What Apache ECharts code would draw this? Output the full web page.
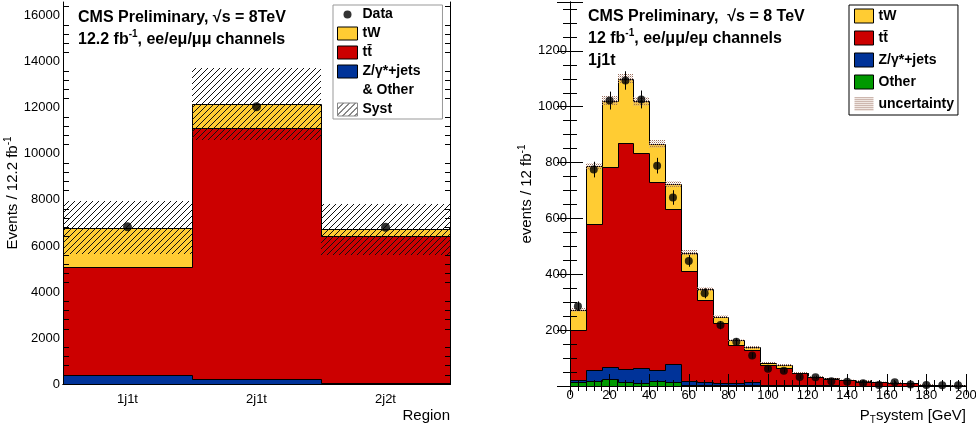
<!DOCTYPE html>
<html>
<head>
<meta charset="utf-8">
<script src="https://cdn.jsdelivr.net/npm/echarts@6/dist/echarts.min.js"></script>
<style>
html, body { margin: 0; padding: 0; background: #fff; }
#chart { width: 976px; height: 430px; }
</style>
</head>
<body>
<div id="chart"></div>
<script>
// left panel: yields per region
var regions = ["1j1t", "2j1t", "2j2t"];
var regZOther = [390, 200, 30];
var regTtbar = [4700, 10910, 6400];
var regTW = [1710, 1060, 290];
var regSyst = [1150, 1550, 1110];
var regData = [6830, 12050, 6810];

// right panel: PT system, 8 GeV bins
var ptEdges = [0, 8, 16, 24, 32, 40, 48, 56, 64, 72, 80, 88, 96, 104, 112, 120, 128, 136, 144, 152, 160, 168, 176, 184, 192, 200];
var ptOther = [15, 18, 26, 13, 10, 18, 13, 5, 3, 2, 2, 2, 1, 1, 1, 1, 1, 0, 0, 0, 0, 0, 0, 0, 0];
var ptZjets = [6, 41, 43, 49, 53, 41, 67, 13, 12, 10, 8, 11, 4, 3, 2, 2, 1, 1, 1, 1, 0, 0, 0, 0, 0];
var ptTtbar = [179, 522, 715, 808, 771, 671, 553, 394, 293, 212, 136, 115, 71, 62, 42, 28, 23, 19, 15, 12, 10, 9, 4, 3, 2];
var ptTW = [72, 205, 238, 230, 185, 137, 89, 66, 38, 24, 18, 10, 8, 8, 3, 3, 3, 3, 2, 2, 2, 2, 1, 1, 0];
var ptUnc = [7, 13, 16, 16, 15, 13, 11, 9, 7, 6, 5, 4, 3, 3, 3, 2, 2, 2, 2, 2, 1, 1, 1, 1, 1];
var ptData = [286, 775, 1022, 1094, 1026, 789, 675, 448, 332, 218, 158, 109, 62, 55, 32, 31, 17, 15, 10, 4, 13, 5, 4, 3, 3];
var ptDataErr = [17, 28, 32, 33, 32, 28, 26, 21, 18, 15, 13, 10, 8, 7, 6, 6, 4, 4, 3, 2, 4, 2, 2, 2, 2];

var FONT = '"Liberation Sans", Arial, Helvetica, sans-serif';
var C_TW = "#ffcc33", C_TT = "#cc0000", C_Z = "#003399", C_OTHER = "#009900";

function makePattern(size, draw) {
  var c = document.createElement("canvas");
  c.width = size;
  c.height = size;
  draw(c.getContext("2d"), size);
  return { image: c, repeat: "repeat" };
}
var hatch = makePattern(6, function (ctx, s) {
  ctx.strokeStyle = "#111";
  ctx.lineWidth = 1;
  ctx.beginPath();
  ctx.moveTo(0, s); ctx.lineTo(s, 0);
  ctx.moveTo(-1, 1); ctx.lineTo(1, -1);
  ctx.moveTo(s - 1, s + 1); ctx.lineTo(s + 1, s - 1);
  ctx.stroke();
});
var dots = makePattern(2, function (ctx) {
  ctx.fillStyle = "#9a6e5e";
  ctx.fillRect(0, 0, 1, 1);
  ctx.fillStyle = "rgba(200,170,155,0.6)";
  ctx.fillRect(1, 1, 1, 1);
});

// cumulative stack, bottom first
function cumulate(parts) {
  var acc = parts[0].map(function () { return 0; });
  return parts.map(function (p) {
    var lo = acc.slice();
    acc = acc.map(function (v, i) { return v + p[i]; });
    return { lo: lo, hi: acc.slice() };
  });
}
var regStack = cumulate([regZOther, regTtbar, regTW]);
var ptStack = cumulate([ptOther, ptZjets, ptTtbar, ptTW]);
var regTotal = regStack[2].hi;
var ptTotal = ptStack[3].hi;

function px(v) { return Math.round(v) + 0.5; }

function snapRect(x0, y0, x1, y1, fill) {
  var l = Math.round(Math.min(x0, x1)), r = Math.round(Math.max(x0, x1));
  var t = Math.round(Math.min(y0, y1)), b = Math.round(Math.max(y0, y1));
  return { type: "rect", shape: { x: l, y: t, width: r - l, height: b - t }, style: { fill: fill } };
}

// ---- render helpers
function regionBlock(fill) {
  return function (params, api) {
    var i = api.value(0);
    var w = api.size([1, 0])[0];
    var a = api.coord([i, api.value(1)]);
    var b = api.coord([i, api.value(2)]);
    return snapRect(a[0] - w / 2, a[1], a[0] + w / 2, b[1], fill);
  };
}
function regionOutline(params, api) {
  var i = api.value(0);
  var w = api.size([1, 0])[0];
  var t = api.coord([i, api.value(1)]);
  var p = api.coord([i, api.value(2)]);
  var xl = px(t[0] - w / 2), xr = px(t[0] + w / 2);
  var pts = [[xl, px(p[1])], [xl, px(t[1])], [xr, px(t[1])]];
  if (api.value(3)) pts.push([xr, px(api.coord([i, 0])[1])]);
  return { type: "polyline", shape: { points: pts }, style: { stroke: "#000", lineWidth: 1, fill: null } };
}
function binBlock(fill) {
  return function (params, api) {
    var a = api.coord([api.value(0), api.value(2)]);
    var b = api.coord([api.value(1), api.value(3)]);
    return snapRect(a[0], a[1], b[0], b[1], fill);
  };
}
function binOutline(params, api) {
  var lo = api.value(0), hi = api.value(1);
  var t = api.coord([lo, api.value(2)]);
  var p = api.coord([lo, api.value(3)]);
  var r = api.coord([hi, api.value(2)]);
  var pts = [[px(t[0]), px(p[1])], [px(t[0]), px(t[1])], [px(r[0]), px(r[1])]];
  if (api.value(4)) pts.push([px(r[0]), px(api.coord([hi, 0])[1])]);
  return { type: "polyline", shape: { points: pts }, style: { stroke: "#000", lineWidth: 1, fill: null } };
}
function errBar(params, api) {
  var a = api.coord([api.value(0), api.value(1) - api.value(2)]);
  var b = api.coord([api.value(0), api.value(1) + api.value(2)]);
  return { type: "line", shape: { x1: px(a[0]), y1: a[1], x2: px(b[0]), y2: b[1] }, style: { stroke: "#000", lineWidth: 1 } };
}

// ---- series data
function regBlockData(k) {
  return regions.map(function (r, i) { return [i, regStack[k].lo[i], regStack[k].hi[i]]; });
}
function regOutlineData(k) {
  var hi = regStack[k].hi;
  return regions.map(function (r, i) { return [i, hi[i], i > 0 ? hi[i - 1] : 0, i === regions.length - 1 ? 1 : 0]; });
}
function ptBlockData(k) {
  return ptStack[k].hi.map(function (v, i) { return [ptEdges[i], ptEdges[i + 1], ptStack[k].lo[i], v]; });
}
function ptOutlineData(k) {
  var hi = ptStack[k].hi;
  return hi.map(function (v, i) { return [ptEdges[i], ptEdges[i + 1], v, i > 0 ? hi[i - 1] : 0, i === hi.length - 1 ? 1 : 0]; });
}
var ptCenters = ptData.map(function (v, i) { return (ptEdges[i] + ptEdges[i + 1]) / 2; });

var series = [];
function add(s) { series.push(s); }

// left panel
[[2, "tW", C_TW], [1, "tt\u0304", C_TT], [0, "Z/\u03b3*+jets", C_Z]].forEach(function (d) {
  add({ type: "custom", name: d[1], xAxisIndex: 0, yAxisIndex: 0, renderItem: regionBlock(d[2]),
    itemStyle: { color: d[2], borderColor: "#000", borderWidth: 1 }, data: regBlockData(d[0]) });
});
add({ type: "custom", name: "& Other", xAxisIndex: 0, yAxisIndex: 0, renderItem: function () { return null; },
  itemStyle: { color: "rgba(0,0,0,0)", borderColor: "rgba(0,0,0,0)" }, data: [] });
[2, 1, 0].forEach(function (k) {
  add({ type: "custom", xAxisIndex: 0, yAxisIndex: 0, renderItem: regionOutline, data: regOutlineData(k), silent: true });
});
add({ type: "custom", name: "Syst", xAxisIndex: 0, yAxisIndex: 0, renderItem: regionBlock(hatch),
  itemStyle: { color: hatch, borderColor: "#888", borderWidth: 1 },
  data: regions.map(function (r, i) { return [i, regTotal[i] - regSyst[i], regTotal[i] + regSyst[i]]; }) });
add({ type: "scatter", name: "Data", xAxisIndex: 0, yAxisIndex: 0, symbolSize: 9,
  itemStyle: { color: "#000" }, data: regions.map(function (r, i) { return [i, regData[i]]; }) });

// right panel
[[0, "Other", C_OTHER], [1, "Z/\u03b3*+jets", C_Z], [2, "tt\u0304", C_TT], [3, "tW", C_TW]].forEach(function (d) {
  add({ type: "custom", name: d[1], xAxisIndex: 2, yAxisIndex: 2, renderItem: binBlock(d[2]),
    itemStyle: { color: d[2], borderColor: "#000", borderWidth: 1 }, data: ptBlockData(d[0]) });
});
[3, 2, 1, 0].forEach(function (k) {
  add({ type: "custom", xAxisIndex: 2, yAxisIndex: 2, renderItem: binOutline, data: ptOutlineData(k), silent: true });
});
add({ type: "custom", name: "uncertainty", xAxisIndex: 2, yAxisIndex: 2, renderItem: binBlock(dots),
  itemStyle: { color: dots, borderColor: "#fff", borderWidth: 0 },
  data: ptTotal.map(function (v, i) { return [ptEdges[i], ptEdges[i + 1], v - ptUnc[i], v + ptUnc[i]]; }) });
add({ type: "custom", xAxisIndex: 2, yAxisIndex: 2, renderItem: errBar,
  data: ptData.map(function (v, i) { return [ptCenters[i], v, ptDataErr[i]]; }) });
add({ type: "scatter", name: "data", xAxisIndex: 2, yAxisIndex: 2, symbolSize: 8,
  itemStyle: { color: "#000" }, data: ptData.map(function (v, i) { return [ptCenters[i], v]; }) });

// ---- axes
var lineBlack = { show: true, lineStyle: { color: "#000", width: 1 } };
var labelStyle = { color: "#000", fontFamily: FONT, fontSize: 13 };
var supRich = {
  n: { fontFamily: FONT, fontSize: 15, color: "#000", lineHeight: 18 },
  sup: { fontFamily: FONT, fontSize: 10, color: "#000", lineHeight: 11, verticalAlign: "top" },
  sub: { fontFamily: FONT, fontSize: 10, color: "#000", lineHeight: 11, verticalAlign: "bottom" }
};

var xAxis = [
  { gridIndex: 0, type: "category", data: regions, position: "bottom", boundaryGap: true, z: 10,
    axisLine: lineBlack, axisTick: { inside: true, length: 12, alignWithLabel: false, lineStyle: { color: "#000" } },
    axisLabel: Object.assign({ margin: 9 }, labelStyle), splitLine: { show: false },
    name: "Region", nameLocation: "end", nameGap: 0,
    nameTextStyle: { fontFamily: FONT, fontSize: 15, color: "#000", align: "right", verticalAlign: "top", padding: [24, 0, 0, 0] } },
  { gridIndex: 0, type: "category", data: regions, position: "top", boundaryGap: true, z: 10,
    axisLine: lineBlack, axisTick: { inside: true, length: 12, alignWithLabel: false, lineStyle: { color: "#000" } },
    axisLabel: { show: false }, splitLine: { show: false } },
  { gridIndex: 1, type: "value", min: 0, max: 200, interval: 20, position: "bottom", z: 10,
    axisLine: lineBlack, axisTick: { inside: true, length: 12, lineStyle: { color: "#000" } },
    minorTick: { show: true, splitNumber: 5, length: 6, lineStyle: { color: "#000" } },
    axisLabel: Object.assign({ margin: 3 }, labelStyle), splitLine: { show: false }, minorSplitLine: { show: false },
    name: "{n|P}{sub|T}{n|system [GeV]}", nameLocation: "end", nameGap: 0,
    nameTextStyle: { align: "right", verticalAlign: "top", padding: [21, 0, 0, 0], rich: supRich } },
  { gridIndex: 1, type: "value", min: 0, max: 200, interval: 20, position: "top", z: 10,
    axisLine: lineBlack, axisTick: { inside: true, length: 9, lineStyle: { color: "#000" } },
    minorTick: { show: true, splitNumber: 5, length: 5, lineStyle: { color: "#000" } },
    axisLabel: { show: false }, splitLine: { show: false } }
];

var yAxis = [
  { gridIndex: 0, type: "value", min: 0, max: 16600, interval: 2000, position: "left", z: 10,
    axisLine: lineBlack, axisTick: { inside: true, length: 12, lineStyle: { color: "#000" } },
    minorTick: { show: true, splitNumber: 5, length: 6, lineStyle: { color: "#000" } },
    axisLabel: Object.assign({ margin: 3, formatter: function (v) { return v % 2000 === 0 ? v : ""; } }, labelStyle),
    splitLine: { show: false }, minorSplitLine: { show: false },
    name: "{n|Events / 12.2 fb}{sup|-1}", nameLocation: "middle", nameGap: 38, nameTextStyle: { rich: supRich } },
  { gridIndex: 0, type: "value", min: 0, max: 16600, interval: 2000, position: "right", z: 10,
    axisLine: lineBlack, axisTick: { inside: true, length: 10, lineStyle: { color: "#000" } },
    minorTick: { show: true, splitNumber: 5, length: 5, lineStyle: { color: "#000" } },
    axisLabel: { show: false }, splitLine: { show: false } },
  { gridIndex: 1, type: "value", min: 0, max: 1375, interval: 200, position: "left", z: 10,
    axisLine: lineBlack, axisTick: { inside: true, length: 13, lineStyle: { color: "#000" } },
    minorTick: { show: true, splitNumber: 4, length: 7, lineStyle: { color: "#000" } },
    axisLabel: Object.assign({ margin: 3, formatter: function (v) { return v > 0 && v % 200 === 0 ? v : ""; } }, labelStyle),
    splitLine: { show: false }, minorSplitLine: { show: false },
    name: "{n|events / 12 fb}{sup|-1}", nameLocation: "middle", nameGap: 27, nameTextStyle: { rich: supRich } },
  { gridIndex: 1, type: "value", min: 0, max: 1375, interval: 200, position: "right", z: 10,
    axisLine: lineBlack, axisTick: { inside: true, length: 13, lineStyle: { color: "#000" } },
    minorTick: { show: true, splitNumber: 4, length: 7, lineStyle: { color: "#000" } },
    axisLabel: { show: false }, splitLine: { show: false } }
];

var titleRich = {
  b: { fontFamily: FONT, fontSize: 16, fontWeight: "bold", color: "#000", lineHeight: 22 },
  sup: { fontFamily: FONT, fontSize: 10, fontWeight: "bold", color: "#000", lineHeight: 14, verticalAlign: "top" }
};
var legendText = { fontFamily: FONT, fontSize: 14, fontWeight: "bold", color: "#000" };

var option = {
  animation: false,
  backgroundColor: "#fff",
  title: [
    { left: 78, top: 7, padding: 0,
      text: "{b|CMS Preliminary, \u221as = 8TeV}\n{b|12.2 fb}{sup|-1}{b|, ee/e\u03bc/\u03bc\u03bc channels}",
      textStyle: { rich: titleRich } },
    { left: 588, top: 6, padding: 0,
      text: "{b|CMS Preliminary,  \u221as = 8 TeV}\n{b|12 fb}{sup|-1}{b|, ee/\u03bc\u03bc/e\u03bc channels}\n{b|1j1t}",
      textStyle: { rich: titleRich } }
  ],
  legend: [
    { left: 333, top: 5, orient: "vertical", icon: "rect", selectedMode: false,
      itemWidth: 20, itemHeight: 13, itemGap: 4, padding: [2, 22, 2, 4],
      backgroundColor: "#fff", borderColor: "#999", borderWidth: 1,
      itemStyle: { borderWidth: 1 },
      textStyle: Object.assign({ lineHeight: 15 }, legendText),
      data: [
        { name: "Data", icon: "path://M0,0M20,13M6,6.5a4,4 0 1,0 8,0a4,4 0 1,0 -8,0Z" },
        "tW", "tt\u0304", "Z/\u03b3*+jets",
        { name: "& Other", itemStyle: { opacity: 0 } },
        "Syst"
      ] },
    { left: 849, top: 5, orient: "vertical", icon: "rect", selectedMode: false,
      itemWidth: 19, itemHeight: 14, itemGap: 6, padding: [3, 4, 3, 5],
      backgroundColor: "#fff", borderColor: "#000", borderWidth: 1,
      itemStyle: { borderWidth: 1 },
      textStyle: Object.assign({ lineHeight: 16 }, legendText),
      data: ["tW", "tt\u0304", "Z/\u03b3*+jets", "Other",
        { name: "uncertainty", itemStyle: { borderWidth: 0 } }] }
  ],
  grid: [
    { left: 63, top: 2, width: 387, height: 382, outerBoundsMode: "none" },
    { left: 570, top: 2, width: 396, height: 384, outerBoundsMode: "none" }
  ],
  xAxis: xAxis,
  yAxis: yAxis,
  series: series
};

var chart = echarts.init(document.getElementById("chart"), null, { renderer: "canvas" });
chart.setOption(option);
</script>
</body>
</html>
